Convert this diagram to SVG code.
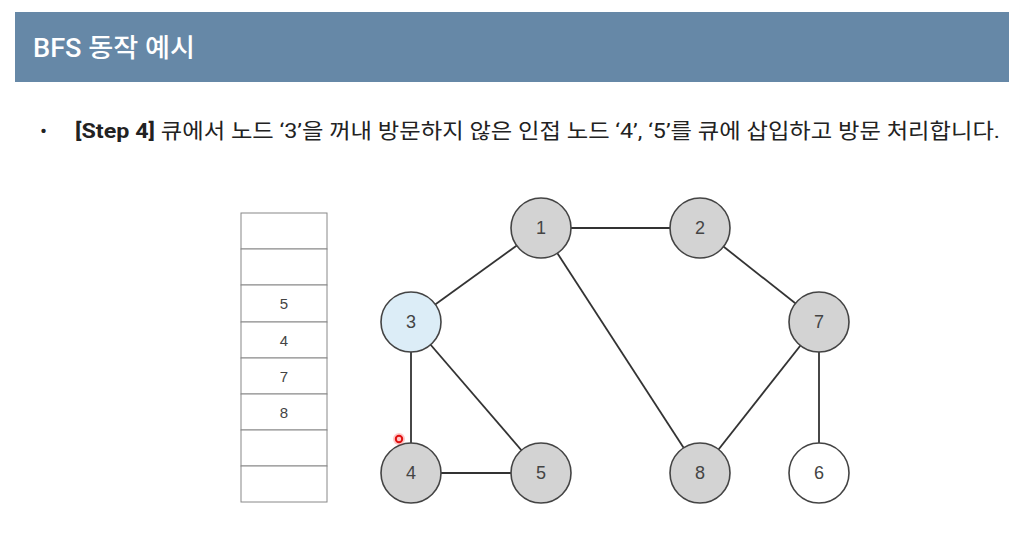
<svg xmlns="http://www.w3.org/2000/svg" width="1011" height="538" viewBox="0 0 1011 538">
<style>
.hdr{font-family:"Roboto","Noto Sans CJK KR",sans-serif;font-size:26px;font-weight:500;fill:#ffffff}
.body{font-family:"Roboto","Noto Sans CJK KR",sans-serif;font-size:21px;fill:#222222}
.node circle{stroke:#444444;stroke-width:1.6;fill:#d3d3d3}
.node text{font-family:"Liberation Sans",Arial,sans-serif;font-size:18px;fill:#444444;text-anchor:middle;dominant-baseline:central}
.edges line{stroke:#333333;stroke-width:1.8}
.cell{fill:#ffffff;stroke:#888888;stroke-width:1}
.qtext{font-family:"Liberation Sans",Arial,sans-serif;font-size:15px;fill:#444444;text-anchor:middle;dominant-baseline:central}
</style>
<rect width="1011" height="538" fill="#ffffff"/>
<rect x="15" y="12" width="994" height="70" fill="#6688a7"/>
<text class="hdr" x="33" y="57" textLength="162" lengthAdjust="spacingAndGlyphs">BFS 동작 예시</text>
<text class="body" x="40" y="138">•</text>
<text class="body" x="75" y="138" textLength="925" lengthAdjust="spacingAndGlyphs"><tspan font-weight="bold">[Step 4]</tspan> 큐에서 노드 ‘3’을 꺼내 방문하지 않은 인접 노드 ‘4’, ‘5’를 큐에 삽입하고 방문 처리합니다.</text>
<g id="queue">
<rect class="cell" x="241" y="213" width="86" height="36"/>
<rect class="cell" x="241" y="249" width="86" height="36"/>
<rect class="cell" x="241" y="285" width="86" height="37"/>
<rect class="cell" x="241" y="322" width="86" height="36"/>
<rect class="cell" x="241" y="358" width="86" height="36"/>
<rect class="cell" x="241" y="394" width="86" height="36"/>
<rect class="cell" x="241" y="430" width="86" height="36"/>
<rect class="cell" x="241" y="466" width="86" height="36"/>
<text class="qtext" x="284" y="303">5</text>
<text class="qtext" x="284" y="340">4</text>
<text class="qtext" x="284" y="376">7</text>
<text class="qtext" x="284" y="412">8</text>
</g>
<g class="edges" id="connectors">
<line x1="541" y1="228" x2="700" y2="228"/>
<line x1="541" y1="228" x2="411" y2="322"/>
<line x1="541" y1="228" x2="700" y2="473"/>
<line x1="700" y1="228" x2="819" y2="322"/>
<line x1="411" y1="322" x2="411" y2="473"/>
<line x1="411" y1="322" x2="541" y2="473"/>
<line x1="411" y1="473" x2="541" y2="473"/>
<line x1="819" y1="322" x2="700" y2="473"/>
<line x1="819" y1="322" x2="819" y2="473"/>
</g>
<g class="node" id="node1"><circle cx="541" cy="228" r="30"/><text x="541" y="228">1</text></g>
<g class="node" id="node2"><circle cx="700" cy="228" r="30"/><text x="700" y="228">2</text></g>
<g class="node" id="node3"><circle cx="411" cy="322" r="30" style="fill:#dcedf7"/><text x="411" y="322">3</text></g>
<g class="node" id="node7"><circle cx="819" cy="322" r="30"/><text x="819" y="322">7</text></g>
<g class="node" id="node4"><circle cx="411" cy="473" r="30"/><text x="411" y="473">4</text></g>
<g class="node" id="node5"><circle cx="541" cy="473" r="30"/><text x="541" y="473">5</text></g>
<g class="node" id="node8"><circle cx="700" cy="473" r="30"/><text x="700" y="473">8</text></g>
<g class="node" id="node6"><circle cx="819" cy="473" r="30" style="fill:#ffffff"/><text x="819" y="473">6</text></g>
<circle cx="399" cy="439" r="6" fill="#ff6060" opacity="0.35"/>
<circle cx="399" cy="439" r="3.2" fill="none" stroke="#e01010" stroke-width="2"/>
</svg>
